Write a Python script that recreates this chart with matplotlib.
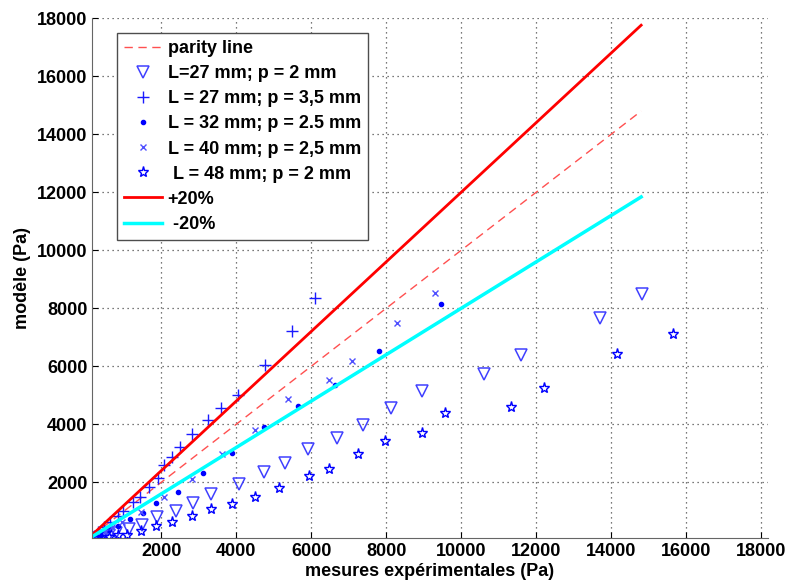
import matplotlib.pyplot as plt
import numpy as np

plt.rcParams['font.family'] = ['Liberation Sans', 'DejaVu Sans']
plt.rcParams['font.weight'] = 'bold'

# L=27 mm; p = 2 mm  (triangles)
x_l27p2 = [300, 450, 600, 800, 1136, 1483, 1893, 2382, 2843, 3334, 4070, 4737, 5289,
           5910, 6684, 7377, 8134, 8951, 10604, 11601, 13698, 14820]
y_l27p2 = [90, 150, 200, 250, 388, 535, 799, 1015, 1279, 1598, 1952, 2343, 2672,
           3142, 3530, 3989, 4559, 5142, 5738, 6400, 7680, 8482]

# L = 27 mm; p = 3,5 mm  (plus)
x_l27p35 = [200, 320, 480, 640, 835, 979, 1235, 1440, 1688, 1928, 2062, 2286, 2507,
            2816, 3243, 3600, 4043, 4763, 5494, 6089]
y_l27p35 = [160, 286, 459, 641, 838, 1021, 1310, 1503, 1848, 2138, 2596, 2884, 3207,
            3680, 4147, 4548, 5004, 6047, 7213, 8366]

# L = 32 mm; p = 2.5 mm  (points)
x_l32 = [250, 400, 600, 850, 1173, 1512, 1867, 2435, 3110, 3883, 4737, 5654, 6630,
         7804, 9468]
y_l32 = [100, 200, 350, 500, 734, 931, 1276, 1676, 2329, 3005, 3907, 4641, 5361,
         6514, 8150]

# L = 40 mm; p = 2,5 mm  (x)
x_l40 = [300, 500, 700, 950, 1467, 2062, 2819, 3617, 4497, 5377, 6462, 7102, 8284, 9289]
y_l40 = [150, 300, 450, 620, 965, 1503, 2103, 2960, 3804, 4881, 5543, 6195, 7488, 8517]

# L = 48 mm; p = 2 mm  (stars)
x_l48 = [200, 400, 600, 850, 1083, 1467, 1867, 2283, 2816, 3334, 3883, 4489, 5137,
         5929, 6470, 7246, 7956, 8951, 9574, 11335, 12204, 14143, 15645]
y_l48 = [80, 100, 130, 170, 192, 329, 501, 628, 844, 1074, 1255, 1495, 1815,
         2226, 2456, 2981, 3416, 3715, 4387, 4593, 5245, 6424, 7131]

# bornes des droites
x_line = [150, 14800]

fig = plt.figure(figsize=(7.88, 5.85), dpi=100)
ax = fig.add_axes([0.117, 0.0798, 0.857, 0.889])

xl = np.array(x_line)
ax.plot(xl, xl, color='#ff5050', lw=1.0, dashes=(6, 4), label='parity line')
ax.plot(x_l27p2, y_l27p2, 'v', mfc='none', mec='#4040ff', ms=8, mew=1.1,
        label='L=27 mm; p = 2 mm')
ax.plot(x_l27p35, y_l27p35, '+', color='#1a1aff', ms=9, mew=1.0,
        label='L = 27 mm; p = 3,5 mm')
ax.plot(x_l32, y_l32, '.', color='#0000ff', ms=6, label='L = 32 mm; p = 2.5 mm')
ax.plot(x_l40, y_l40, 'x', color='#5050ff', ms=5, mew=1.0,
        label='L = 40 mm; p = 2,5 mm')
ax.plot(x_l48, y_l48, '*', mfc='none', mec='#0000ff', ms=8, mew=1.0,
        label=' L = 48 mm; p = 2 mm')
ax.plot(xl, 1.2 * xl, '-', color='#ff0000', lw=2, label='+20%')
ax.plot(xl, 0.8 * xl, '-', color='#00ffff', lw=2.5, label=' -20%')

ax.set_xlim(160, 18170)
ax.set_ylim(70, 18000)
ax.set_xticks(np.arange(2000, 18001, 2000))
ax.set_yticks(np.arange(2000, 18001, 2000))
ax.tick_params(direction='in', labelsize=13, length=4)
for lab in ax.get_xticklabels() + ax.get_yticklabels():
    lab.set_fontweight('bold')
ax.grid(True, linestyle=(0, (1, 3)), color='0.3', lw=0.9)
ax.spines['top'].set_visible(False)
ax.spines['right'].set_visible(False)
ax.spines['left'].set_color('0.4')
ax.spines['bottom'].set_color('0.4')

ax.set_xlabel('mesures expérimentales (Pa)', fontsize=13, fontweight='bold', labelpad=2)
ax.set_ylabel('modèle (Pa)', fontsize=13, fontweight='bold', labelpad=4)

leg = ax.legend(loc='upper left', bbox_to_anchor=(0.037, 0.972), borderaxespad=0,
                prop={'size': 13, 'weight': 'bold'}, fancybox=False, framealpha=1,
                edgecolor='0.3', handlelength=2.1, labelspacing=0.45,
                handletextpad=0.3, borderpad=0.4)
leg.get_frame().set_linewidth(1.0)

fig.savefig('out.png', dpi=100)
